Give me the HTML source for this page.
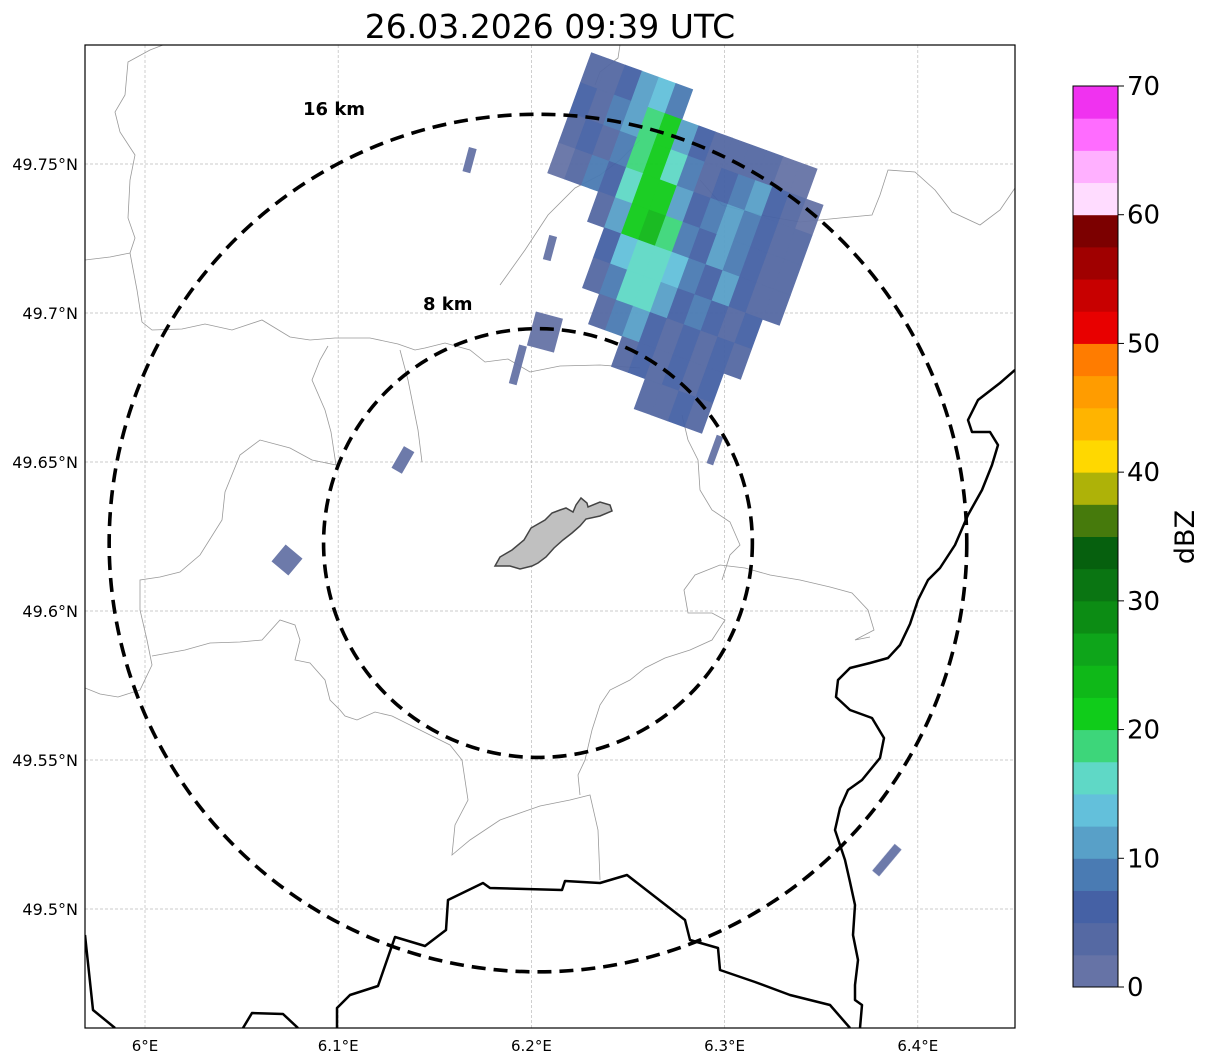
<!DOCTYPE html>
<html><head><meta charset="utf-8"><style>
html,body{margin:0;padding:0;background:#fff;}
svg{display:block;font-family:"DejaVu Sans","Liberation Sans",sans-serif;}
</style></head><body>
<svg id="chart" width="1207" height="1064" viewBox="0 0 1207 1064" xmlns="http://www.w3.org/2000/svg">
<text x="550" y="38" font-size="33" text-anchor="middle">26.03.2026 09:39 UTC</text>
<defs><clipPath id="mapclip"><rect x="85" y="45" width="930" height="983"/></clipPath></defs>
<g id="grid"></g>
<g clip-path="url(#mapclip)">
  <g fill="none" stroke="#999" stroke-width="0.8">
    <path d="M85,260 L110,257 L130,253 L135,238 L128,218 L130,180 L135,155 L120,132 L115,112 L125,95 L128,62 L150,50 L163,45"/>
    <path d="M130,253 L137,290 L142,322 L152,330 L182,329 L205,324 L232,330 L262,320 L290,337 L310,340"/>
    <path d="M310,340 L335,338 L370,338 L398,344 L415,350 L425,348 L445,343 L470,350 L485,362 L508,359 L530,372 L560,366 L600,365 L640,368"/>
    <path d="M328,346 L320,360 L312,380 L325,410 L331,432 L336,465 L312,460 L290,448 L260,440 L240,455 L225,492 L222,520 L200,555 L180,572 L160,577 L140,580 L140,610 L147,640 L152,665 L140,690 L118,697 L100,694 L85,688"/>
    <path d="M152,656 L185,650 L210,643 L240,642 L262,640 L280,620 L295,625 L300,640 L295,660 L310,663 L325,680 L330,700 L340,710 L345,716 L357,720 L375,712 L392,716 L410,725 L430,735 L450,745 L462,760 L468,800 L455,825 L452,855 L470,840 L500,820 L540,806 L570,800 L590,795 L598,830 L600,880"/>
    <path d="M580,795 L578,775 L585,760 L592,730 L600,705 L610,690 L630,680 L645,668 L665,658 L690,650 L712,640 L725,620 L712,613 L688,613 L684,590 L695,575 L720,565 L745,568 L770,575 L800,580 L830,587 L852,593 L868,610 L874,630 L855,640 L870,637"/>
    <path d="M682,415 L688,440 L698,460 L700,490 L712,510 L730,522 L740,545 L730,555 L722,580"/>
    <path d="M400,350 L408,380 L418,430 L422,462"/>
    <path d="M500,285 L525,250 L548,215 L575,188 L600,175 L620,160 L640,140"/>
    <path d="M620,45 L618,58 L600,72 L595,85"/>
    <path d="M700,180 L722,205 L760,215 L800,222 L840,218 L872,215 L880,195 L888,170 L915,172 L935,190 L952,212 L980,225 L1000,210 L1015,188"/>
  </g>
  <g fill="none" stroke="#000" stroke-width="2.5" stroke-linejoin="round">
    <path d="M1015,370 L1000,383 L978,400 L968,420 L972,432 L990,432 L998,445 L992,465 L982,490 L968,515 L955,545 L940,568 L928,580 L918,600 L910,624 L900,645 L888,658 L870,663 L850,668 L838,680 L836,697 L850,710 L872,718 L884,738 L880,758 L862,780 L848,790 L840,808 L835,830 L845,860 L850,882 L855,905 L853,935 L858,960 L855,985 L855,1000 L862,1005 L860,1028"/>
    <path d="M85,935 L93,1010 L115,1028"/>
    <path d="M243,1028 L252,1013 L283,1014 L298,1028"/>
    <path d="M337,1028 L337,1008 L350,995 L378,986 L395,937 L425,946 L446,930 L448,900 L483,883 L490,888 L562,890 L565,881 L600,883 L627,875 L685,920 L690,940 L718,948 L720,970 L755,982 L790,995 L830,1005 L850,1028"/>
  </g>
  <g id="cells" opacity="0.95"></g>
  <path d="M495,566 L500,557 L512,550 L524,540 L531,528 L545,520 L552,513 L560,510 L566,508 L573,512 L576,505 L581,498 L587,503 L588,507 L600,502 L610,505 L612,511 L600,516 L586,519 L580,526 L572,533 L563,540 L554,548 L546,557 L538,563 L532,566 L520,569 L510,566 Z" fill="#c0c0c0" stroke="#444" stroke-width="1.5"/>
  <g id="rings" fill="none" stroke="#000" stroke-width="3.6" stroke-dasharray="14,8"></g>
</g>
<rect x="85" y="45" width="930" height="983" fill="none" stroke="#000" stroke-width="1.2"/>
<text x="303" y="115" font-size="18" font-weight="bold">16 km</text>
<text x="423" y="310" font-size="18" font-weight="bold">8 km</text>
<g id="axes" font-size="15"></g>
<g id="cbar"></g>
<text transform="translate(1194,537) rotate(-90)" font-size="27" text-anchor="middle">dBZ</text>
</svg>
<script>
const NS='http://www.w3.org/2000/svg';
// ---- data ----
const lonTicks=[6.0,6.1,6.2,6.3,6.4];
const lonLabels=['6°E','6.1°E','6.2°E','6.3°E','6.4°E'];
const latTicks=[49.75,49.7,49.65,49.6,49.55,49.5];
const latLabels=['49.75°N','49.7°N','49.65°N','49.6°N','49.55°N','49.5°N'];
const cbarTicks=[0,10,20,30,40,50,60,70];
const cbarColors=['#6673a6','#5569a3','#4561a5','#4a7bb3','#58a0c8','#63c0db','#5fd8c6','#3dd67a','#10cc1a','#0fb818','#0ea51a','#0c8c14','#0a7512','#06600e','#467a0c','#aeb208','#ffd800','#ffb400','#ff9c00','#ff7c00','#e80000','#c80000','#a00000','#7c0000','#ffdcff','#ffb0ff','#ff6cff','#f032f0'];
const ringKm=[8,16];
const radarLon=6.2034, radarLat=49.6228;
const X=null;
// main echo grid (rows along beam, columns across), dBZ values
const gridValues=[
[4,3,6,11,13,9,X,X,X,X,X,X,X,X,X,X],
[6,4,9,11,18,21,11,6,3,4,3,4,2,1,X,X],
[3,6,4,9,18,21,16,9,4,6,9,11,6,4,2,X],
[2,4,9,6,16,21,21,11,6,9,11,9,6,4,3,X],
[X,X,X,4,11,21,23,18,9,6,11,9,6,4,3,X],
[X,X,X,X,6,13,16,16,13,9,6,11,6,4,3,X],
[X,X,X,X,4,9,16,16,11,6,9,6,4,6,X,X],
[X,X,X,X,X,3,9,11,6,4,6,4,6,4,X,X],
[X,X,X,X,X,X,X,4,6,3,6,4,6,X,X,X],
[X,X,X,X,X,X,X,X,X,3,4,6,3,X,X,X]
];
// isolated echoes
const isoLon=[6.168,6.2096,6.207,6.193,6.1335,6.0735,6.384,6.295];
const isoLat=[49.7513,49.7218,49.6936,49.6826,49.6507,49.6171,49.5164,49.654];
const isoVal=[2,2,1,1,1,1,2,2];
// ---- axes ----
const pxPerLon=1932, pxPerLat=2980;
function xLon(lon){return 145+(lon-6.0)*pxPerLon;}
function yLat(lat){return 164-(lat-49.75)*pxPerLat;}
const cx=xLon(radarLon), cy=yLat(radarLat), pxPerKm=26.8;
const frameX=580, frameY=40, tilt=20*Math.PI/180, colW=18, rowH=32, v0=15, w0=8;
function frame(v,w){return [frameX+v*Math.cos(tilt)-w*Math.sin(tilt), frameY+v*Math.sin(tilt)+w*Math.cos(tilt)];}
function cbY(v){return 987-v*(901/70);}
function colorFor(v){return cbarColors[Math.max(0,Math.min(27,Math.floor(v/2.5)))];}
const grid=document.getElementById('grid'), axes=document.getElementById('axes');
lonTicks.forEach((t,i)=>{
  const x=xLon(t);
  const l=document.createElementNS(NS,'line');
  l.setAttribute('x1',x);l.setAttribute('x2',x);l.setAttribute('y1',45);l.setAttribute('y2',1028);
  l.setAttribute('stroke','#bbb');l.setAttribute('stroke-width','0.7');l.setAttribute('stroke-dasharray','3,2');
  
  
  grid.appendChild(l);
  const tx=document.createElementNS(NS,'text');
  tx.setAttribute('x',x);tx.setAttribute('y',1051);tx.setAttribute('text-anchor','middle');tx.textContent=lonLabels[i];
  
  
  axes.appendChild(tx);
});
latTicks.forEach((t,i)=>{
  const y=yLat(t);
  const l=document.createElementNS(NS,'line');
  l.setAttribute('x1',85);l.setAttribute('x2',1015);l.setAttribute('y1',y);l.setAttribute('y2',y);
  l.setAttribute('stroke','#bbb');l.setAttribute('stroke-width','0.7');l.setAttribute('stroke-dasharray','3,2');
  
  
  grid.appendChild(l);
  const tx=document.createElementNS(NS,'text');
  tx.setAttribute('x',78);tx.setAttribute('y',y+6);tx.setAttribute('text-anchor','end');tx.setAttribute('font-size','16');tx.textContent=latLabels[i];
  
  
  axes.appendChild(tx);
});
// ---- cells ----
const cells=document.getElementById('cells');
gridValues.forEach((row,ri)=>{
  row.forEach((v,ci)=>{
    if(v===null)return;
    const va=v0+ci*colW, wa=w0+ri*rowH;
    const pts=[frame(va,wa),frame(va+colW,wa),frame(va+colW,wa+rowH),frame(va,wa+rowH)].map(p=>p[0].toFixed(1)+','+p[1].toFixed(1)).join(' ');
    const p=document.createElementNS(NS,'polygon');
    p.setAttribute('points',pts);
    const c=colorFor(v);
    p.setAttribute('fill',c);p.setAttribute('stroke',c);p.setAttribute('stroke-width','0.6');
    
    
    cells.appendChild(p);
  });
});
const isoW=[8,8,28,8,12,22,9,7], isoH=[25,25,35,40,25,22,35,30], isoTilt=[15,15,15,15,30,40,40,20];
isoLon.forEach((lon,i)=>{
  const x=xLon(lon), y=yLat(isoLat[i]);
  const r=document.createElementNS(NS,'rect');
  r.setAttribute('x',x-isoW[i]/2);r.setAttribute('y',y-isoH[i]/2);
  r.setAttribute('width',isoW[i]);r.setAttribute('height',isoH[i]);
  r.setAttribute('transform','rotate('+isoTilt[i]+' '+x+' '+y+')');
  r.setAttribute('fill',colorFor(isoVal[i]));
  
  
  cells.appendChild(r);
});
// ---- rings ----
const rings=document.getElementById('rings');
ringKm.forEach(k=>{
  const c=document.createElementNS(NS,'circle');
  c.setAttribute('cx',cx);c.setAttribute('cy',cy);c.setAttribute('r',k*pxPerKm);
  
  
  rings.appendChild(c);
});
// ---- colorbar ----
const cb=document.getElementById('cbar');
cbarColors.forEach((c,i)=>{
  const r=document.createElementNS(NS,'rect');
  const y1=cbY((i+1)*2.5), y0=cbY(i*2.5);
  r.setAttribute('x',1073);r.setAttribute('y',y1);r.setAttribute('width',45);r.setAttribute('height',y0-y1+0.5);
  r.setAttribute('fill',c);
  
  
  cb.appendChild(r);
});
const fr=document.createElementNS(NS,'rect');
fr.setAttribute('x',1073);fr.setAttribute('y',86);fr.setAttribute('width',45);fr.setAttribute('height',901);
fr.setAttribute('fill','none');fr.setAttribute('stroke','#000');fr.setAttribute('stroke-width','1');


cb.appendChild(fr);
cbarTicks.forEach(t=>{
  const y=cbY(t);
  const l=document.createElementNS(NS,'line');
  l.setAttribute('x1',1118);l.setAttribute('x2',1124);l.setAttribute('y1',y);l.setAttribute('y2',y);l.setAttribute('stroke','#000');
  
  
  cb.appendChild(l);
  const tx=document.createElementNS(NS,'text');
  tx.setAttribute('x',1127);tx.setAttribute('y',y+9);tx.setAttribute('font-size','26');tx.textContent=t;
  
  
  cb.appendChild(tx);
});
</script>
</body></html>
